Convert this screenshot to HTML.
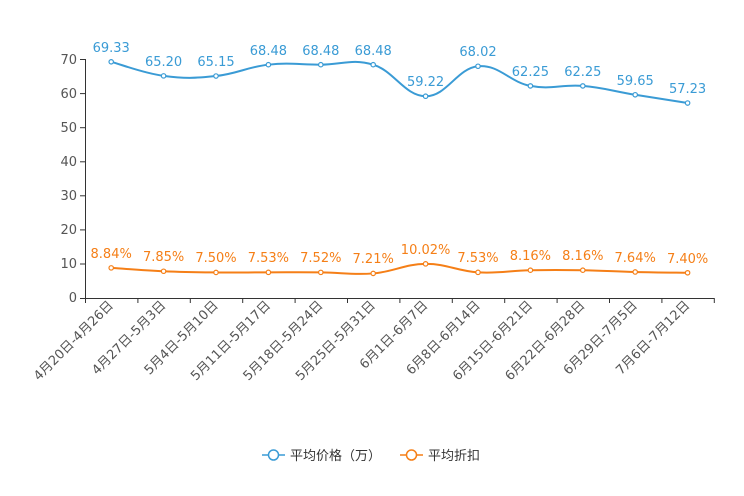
<!DOCTYPE html>
<html><head><meta charset="utf-8"><style>
html,body{margin:0;padding:0;background:#fff;}
svg{display:block;font-family:"DejaVu Sans","Liberation Sans","Noto Sans CJK SC",sans-serif;}
</style></head><body>
<svg id="c" width="744" height="496" viewBox="0 0 744 496">
<g stroke="#333" stroke-width="1">
<line x1="85.5" y1="59" x2="85.5" y2="298.5"/>
<line x1="85" y1="298.5" x2="714" y2="298.5"/>
<line x1="80" y1="59.5" x2="85" y2="59.5"/><line x1="80" y1="93.6" x2="85" y2="93.6"/>
<line x1="80" y1="127.7" x2="85" y2="127.7"/><line x1="80" y1="161.8" x2="85" y2="161.8"/>
<line x1="80" y1="195.8" x2="85" y2="195.8"/><line x1="80" y1="229.9" x2="85" y2="229.9"/>
<line x1="80" y1="264" x2="85" y2="264"/><line x1="80" y1="298.5" x2="85" y2="298.5"/>
</g>
<g id="xt" stroke="#333"></g>
<g font-size="13" fill="#555" text-anchor="end">
<text x="77" y="64">70</text><text x="77" y="98">60</text><text x="77" y="132">50</text>
<text x="77" y="166">40</text><text x="77" y="200">30</text><text x="77" y="234">20</text>
<text x="77" y="268">10</text><text x="77" y="302">0</text>
</g>
<path id="pb" fill="none" stroke="#3a9bd5" stroke-width="2"/>
<path id="po" fill="none" stroke="#f57f17" stroke-width="2"/>
<g id="dots"></g>
<g font-size="13" fill="#3a9bd5" text-anchor="middle">
<text x="111.2" y="52">69.33</text><text x="163.6" y="66">65.20</text><text x="216" y="66">65.15</text>
<text x="268.4" y="55">68.48</text><text x="320.8" y="55">68.48</text><text x="373.2" y="55">68.48</text>
<text x="425.6" y="86">59.22</text><text x="478" y="56">68.02</text><text x="530.4" y="76">62.25</text>
<text x="582.8" y="76">62.25</text><text x="635.2" y="85">59.65</text><text x="687.6" y="93">57.23</text>
</g>
<g font-size="13" fill="#f57f17" text-anchor="middle">
<text x="111.2" y="258">8.84%</text><text x="163.6" y="261">7.85%</text><text x="216" y="262">7.50%</text>
<text x="268.4" y="262">7.53%</text><text x="320.8" y="262">7.52%</text><text x="373.2" y="263">7.21%</text>
<text x="425.6" y="254">10.02%</text><text x="478" y="262">7.53%</text><text x="530.4" y="260">8.16%</text>
<text x="582.8" y="260">8.16%</text><text x="635.2" y="262">7.64%</text><text x="687.6" y="263">7.40%</text>
</g>
<g font-size="13" fill="#555" text-anchor="end">
<text transform="translate(114,306) rotate(-45)">4月20日-4月26日</text>
<text transform="translate(166.4,306) rotate(-45)">4月27日-5月3日</text>
<text transform="translate(218.8,306) rotate(-45)">5月4日-5月10日</text>
<text transform="translate(271.2,306) rotate(-45)">5月11日-5月17日</text>
<text transform="translate(323.6,306) rotate(-45)">5月18日-5月24日</text>
<text transform="translate(376,306) rotate(-45)">5月25日-5月31日</text>
<text transform="translate(428.4,306) rotate(-45)">6月1日-6月7日</text>
<text transform="translate(480.8,306) rotate(-45)">6月8日-6月14日</text>
<text transform="translate(533.2,306) rotate(-45)">6月15日-6月21日</text>
<text transform="translate(585.6,306) rotate(-45)">6月22日-6月28日</text>
<text transform="translate(638,306) rotate(-45)">6月29日-7月5日</text>
<text transform="translate(690.4,306) rotate(-45)">7月6日-7月12日</text>
</g>
<g>
<line x1="262" y1="455" x2="285" y2="455" stroke="#3a9bd5" stroke-width="1.5"/>
<circle cx="273.5" cy="455" r="5" fill="#fff" stroke="#3a9bd5" stroke-width="1.5"/>
<text x="290" y="460" font-size="13" fill="#333">平均价格（万）</text>
<line x1="400" y1="455" x2="423" y2="455" stroke="#f57f17" stroke-width="1.5"/>
<circle cx="411.5" cy="455" r="5" fill="#fff" stroke="#f57f17" stroke-width="1.5"/>
<text x="428" y="460" font-size="13" fill="#333">平均折扣</text>
</g>
</svg>
<script>
var xs=[],b=[69.33,65.20,65.15,68.48,68.48,68.48,59.22,68.02,62.25,62.25,59.65,57.23],o=[8.84,7.85,7.50,7.53,7.52,7.21,10.02,7.53,8.16,8.16,7.64,7.40];
for(var i=0;i<12;i++)xs.push(111.2+52.4*i);
function Y(v){return 298-v*3.407;}
function path(vals){var p=vals.map(function(v,i){return [xs[i],Y(v)];});var d="M"+p[0][0]+","+p[0][1];var s=0.2;
for(var i=0;i<p.length-1;i++){var p0=p[Math.max(i-1,0)],p1=p[i],p2=p[i+1],p3=p[Math.min(i+2,p.length-1)];
d+=" C"+(p1[0]+(p2[0]-p0[0])*s)+","+(p1[1]+(p2[1]-p0[1])*s)+" "+(p2[0]-(p3[0]-p1[0])*s)+","+(p2[1]-(p3[1]-p1[1])*s)+" "+p2[0]+","+p2[1];}
return d;}
document.getElementById("pb").setAttribute("d",path(b));
document.getElementById("po").setAttribute("d",path(o));
var ns="http://www.w3.org/2000/svg",g=document.getElementById("dots"),xt=document.getElementById("xt");
for(var i=0;i<12;i++){[[b,"#3a9bd5"],[o,"#f57f17"]].forEach(function(a){var c=document.createElementNS(ns,"circle");c.setAttribute("cx",xs[i]);c.setAttribute("cy",Y(a[0][i]));c.setAttribute("r",2.2);c.setAttribute("fill","#fff");c.setAttribute("stroke",a[1]);c.setAttribute("stroke-width",1.2);g.appendChild(c);});}
for(var i=0;i<=12;i++){var l=document.createElementNS(ns,"line");var x=85.5+52.4*i;l.setAttribute("x1",x);l.setAttribute("x2",x);l.setAttribute("y1",298);l.setAttribute("y2",303);xt.appendChild(l);}
</script>
</body></html>
